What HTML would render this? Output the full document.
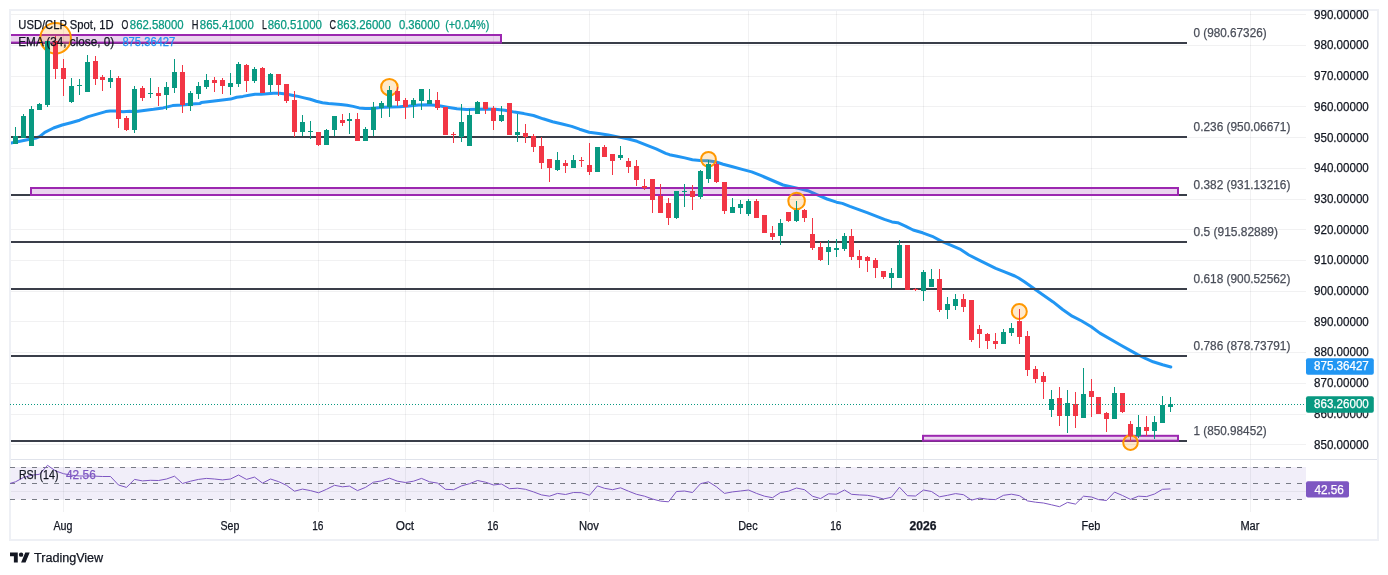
<!DOCTYPE html>
<html lang="en"><head><meta charset="utf-8"><title>USD/CLP Spot, 1D</title>
<style>html,body{margin:0;padding:0;background:#fff;overflow:hidden}svg{display:block}text{font-family:"Liberation Sans",sans-serif;font-size:12px;stroke-width:0.25px}</style></head><body>
<svg width="1388" height="575" viewBox="0 0 1388 575">
<rect width="1388" height="575" fill="#fff"/>
<defs><clipPath id="pane"><rect x="11" y="11" width="1295" height="448"/></clipPath></defs>
<rect x="11" y="467" width="1295" height="32.6" fill="#f1eef9"/>
<path d="M11 14.5H1306M11 45.5H1306M11 76.5H1306M11 106.5H1306M11 137.5H1306M11 168.5H1306M11 199.5H1306M11 229.5H1306M11 260.5H1306M11 291.5H1306M11 321.5H1306M11 352.5H1306M11 383.5H1306M11 414.5H1306M11 444.5H1306M11 491.5H1306M63.5 10V512M230.5 10V512M318.5 10V512M405.5 10V512M493.5 10V512M589.5 10V512M748.5 10V512M836.5 10V512M923.5 10V512M1091.5 10V512M1250.5 10V512" stroke="#2a2e39" stroke-opacity="0.065" stroke-width="1" fill="none"/>
<path d="M11 459.5H1377" stroke="#e0e3eb" stroke-width="1" fill="none"/>
<rect x="10" y="10" width="1368" height="530" fill="none" stroke="#eef0f5" stroke-width="2"/>
<path d="M8.0 143.7 L10.0 143.3 L18.7 141.5 L27.4 139.8 L36.1 138.0 L39.6 136.7 L44.8 132.4 L53.5 128.0 L62.2 125.0 L70.9 122.7 L79.6 120.2 L88.3 116.6 L97.0 114.1 L105.7 111.6 L110.0 111.0 L116.1 111.1 L123.0 111.7 L130.0 111.3 L134.4 111.7 L143.9 110.4 L153.5 109.3 L163.1 107.9 L172.6 105.6 L182.2 105.0 L191.7 104.1 L200.0 103.4 L201.3 102.6 L212.2 101.3 L224.5 99.7 L230.6 99.1 L236.7 97.3 L242.9 96.4 L249.0 95.2 L255.1 94.2 L261.2 94.2 L267.4 93.7 L273.5 93.2 L279.6 93.2 L285.7 93.9 L291.9 95.2 L298.0 96.4 L304.1 97.9 L310.2 99.3 L316.3 101.3 L322.5 102.8 L328.6 103.5 L334.7 104.0 L340.8 104.6 L347.0 105.2 L353.1 106.4 L359.2 107.9 L365.3 108.6 L370.0 108.6 L376.0 107.9 L383.7 107.3 L391.3 107.0 L399.6 106.7 L409.1 106.0 L418.7 105.0 L428.3 104.8 L437.8 105.6 L447.4 107.3 L457.0 108.8 L466.5 109.4 L476.1 109.2 L485.7 109.0 L495.2 109.2 L504.8 110.2 L514.4 112.1 L523.9 113.6 L533.5 115.5 L543.1 118.8 L552.6 121.7 L562.2 124.0 L571.7 126.4 L579.6 129.2 L589.1 132.3 L598.7 133.6 L608.3 134.9 L617.8 136.9 L627.4 138.8 L637.0 141.3 L646.5 145.1 L656.1 148.9 L665.7 153.3 L669.5 154.7 L677.1 156.2 L684.8 157.9 L692.4 159.8 L700.1 160.4 L707.7 160.8 L715.4 161.7 L723.1 164.2 L732.6 166.7 L742.2 169.4 L751.7 171.9 L761.3 175.7 L783.0 185.0 L798.3 188.4 L807.8 190.7 L817.4 194.9 L827.0 199.0 L836.5 202.2 L842.3 203.4 L849.9 206.4 L859.5 209.9 L867.1 212.7 L874.8 215.6 L884.4 219.4 L892.0 221.9 L897.7 222.7 L905.4 226.1 L913.1 230.0 L922.6 232.8 L932.2 236.3 L941.7 241.4 L951.3 245.3 L959.9 249.1 L968.9 255.0 L976.5 258.8 L986.1 263.6 L995.7 268.4 L1005.2 272.2 L1014.8 276.0 L1018.6 278.0 L1024.4 281.8 L1033.9 288.5 L1043.5 295.2 L1053.1 301.9 L1062.6 309.5 L1072.2 316.2 L1081.7 321.0 L1091.3 326.7 L1099.9 333.1 L1120.5 345.0 L1130.1 350.4 L1137.7 354.6 L1145.4 358.4 L1153.1 361.8 L1162.6 364.7 L1170.8 367.0" stroke="#2196f3" stroke-width="3" fill="none" stroke-linejoin="round" stroke-linecap="round" clip-path="url(#pane)"/>
<path d="M11 43H1187" stroke="#3a3e49" stroke-width="2"/>
<text x="1193.6" y="37.0" fill="#4a4e59" stroke="#4a4e59" text-anchor="start" textLength="73.0" lengthAdjust="spacingAndGlyphs">0 (980.67326)</text>
<path d="M11 137H1187" stroke="#3a3e49" stroke-width="2"/>
<text x="1193.6" y="131.0" fill="#4a4e59" stroke="#4a4e59" text-anchor="start" textLength="96.8" lengthAdjust="spacingAndGlyphs">0.236 (950.06671)</text>
<path d="M11 195H1187" stroke="#3a3e49" stroke-width="2"/>
<text x="1193.6" y="189.0" fill="#4a4e59" stroke="#4a4e59" text-anchor="start" textLength="96.8" lengthAdjust="spacingAndGlyphs">0.382 (931.13216)</text>
<path d="M11 242H1187" stroke="#3a3e49" stroke-width="2"/>
<text x="1193.6" y="236.0" fill="#4a4e59" stroke="#4a4e59" text-anchor="start" textLength="84.4" lengthAdjust="spacingAndGlyphs">0.5 (915.82889)</text>
<path d="M11 289H1187" stroke="#3a3e49" stroke-width="2"/>
<text x="1193.6" y="283.0" fill="#4a4e59" stroke="#4a4e59" text-anchor="start" textLength="96.8" lengthAdjust="spacingAndGlyphs">0.618 (900.52562)</text>
<path d="M11 356H1187" stroke="#3a3e49" stroke-width="2"/>
<text x="1193.6" y="350.0" fill="#4a4e59" stroke="#4a4e59" text-anchor="start" textLength="96.8" lengthAdjust="spacingAndGlyphs">0.786 (878.73791)</text>
<path d="M11 441H1187" stroke="#3a3e49" stroke-width="2"/>
<text x="1193.6" y="435.0" fill="#4a4e59" stroke="#4a4e59" text-anchor="start" textLength="73.0" lengthAdjust="spacingAndGlyphs">1 (850.98452)</text>
<g clip-path="url(#pane)">
<rect x="0" y="35.0" width="501" height="7.600000000000001" fill="#9c27b0" fill-opacity="0.2" stroke="#9c27b0" stroke-width="2"/>
<rect x="31" y="188" width="1147" height="7" fill="#9c27b0" fill-opacity="0.2" stroke="#9c27b0" stroke-width="2"/>
<rect x="923" y="435.8" width="255" height="4.899999999999977" fill="#9c27b0" fill-opacity="0.2" stroke="#9c27b0" stroke-width="2"/>
<circle cx="55.6" cy="38.2" r="15.3" fill="#ff9800" fill-opacity="0.2" stroke="#ff9800" stroke-width="2"/>
<circle cx="389.4" cy="87.2" r="8.3" fill="#ff9800" fill-opacity="0.2" stroke="#ff9800" stroke-width="2"/>
<circle cx="708.5" cy="159.3" r="7.4" fill="#ff9800" fill-opacity="0.2" stroke="#ff9800" stroke-width="2"/>
<circle cx="796.6" cy="201.0" r="8.3" fill="#ff9800" fill-opacity="0.2" stroke="#ff9800" stroke-width="2"/>
<circle cx="1019.3" cy="311.5" r="7.5" fill="#ff9800" fill-opacity="0.2" stroke="#ff9800" stroke-width="2"/>
<circle cx="1130.5" cy="442.6" r="7.3" fill="#ff9800" fill-opacity="0.2" stroke="#ff9800" stroke-width="2"/>
</g>
<path d="M15 127h1V144h-1zM23 114h1V138h-1zM31 106h1V146h-1zM39 103h1V110h-1zM47 41h1V107h-1zM71 78h1V103h-1zM79 79h1V95h-1zM87 55h1V92h-1zM110 70h1V88h-1zM134 86h1V133h-1zM150 78h1V98h-1zM166 82h1V110h-1zM174 59h1V93h-1zM190 91h1V111h-1zM198 82h1V99h-1zM206 74h1V89h-1zM230 73h1V95h-1zM238 62h1V87h-1zM254 67h1V83h-1zM270 73h1V92h-1zM302 115h1V136h-1zM310 121h1V139h-1zM326 129h1V145h-1zM334 116h1V136h-1zM349 113h1V134h-1zM365 127h1V141h-1zM373 102h1V136h-1zM381 101h1V118h-1zM389 86h1V117h-1zM413 98h1V118h-1zM421 89h1V110h-1zM429 89h1V104h-1zM461 104h1V142h-1zM469 109h1V146h-1zM477 101h1V114h-1zM501 106h1V122h-1zM517 114h1V142h-1zM557 152h1V171h-1zM573 155h1V168h-1zM597 147h1V172h-1zM620 146h1V160h-1zM676 191h1V219h-1zM684 184h1V207h-1zM700 170h1V199h-1zM708 160h1V183h-1zM732 198h1V213h-1zM740 200h1V214h-1zM748 199h1V216h-1zM780 219h1V245h-1zM796 201h1V222h-1zM828 240h1V265h-1zM836 239h1V257h-1zM844 233h1V251h-1zM891 268h1V288h-1zM899 240h1V278h-1zM923 270h1V301h-1zM931 269h1V287h-1zM947 297h1V319h-1zM955 294h1V310h-1zM1003 329h1V344h-1zM1011 323h1V336h-1zM1051 390h1V417h-1zM1067 390h1V433h-1zM1083 368h1V418h-1zM1114 387h1V419h-1zM1138 415h1V438h-1zM1154 416h1V439h-1zM1162 396h1V423h-1zM1170 397h1V412h-1zM13 136h5V144h-5zM21 116h5V138h-5zM29 109h5V146h-5zM37 104h5V110h-5zM45 41h5V105h-5zM69 86h5V102h-5zM77 85h5V86h-5zM85 62h5V92h-5zM108 78h5V82h-5zM132 89h5V130h-5zM148 93h5V94h-5zM164 87h5V95h-5zM172 72h5V88h-5zM188 93h5V106h-5zM196 86h5V94h-5zM204 80h5V87h-5zM228 83h5V87h-5zM236 64h5V84h-5zM252 69h5V81h-5zM268 74h5V85h-5zM300 122h5V132h-5zM308 131h5V132h-5zM324 130h5V145h-5zM332 116h5V130h-5zM347 119h5V121h-5zM363 129h5V141h-5zM371 107h5V130h-5zM379 103h5V108h-5zM387 90h5V107h-5zM411 100h5V105h-5zM419 89h5V101h-5zM427 100h5V104h-5zM459 122h5V137h-5zM467 115h5V146h-5zM475 102h5V114h-5zM499 115h5V121h-5zM515 132h5V135h-5zM555 160h5V170h-5zM571 160h5V168h-5zM595 147h5V172h-5zM618 155h5V158h-5zM674 191h5V218h-5zM682 191h5V192h-5zM698 171h5V197h-5zM706 164h5V179h-5zM730 207h5V213h-5zM738 204h5V208h-5zM746 201h5V214h-5zM778 223h5V236h-5zM794 210h5V221h-5zM826 247h5V252h-5zM834 248h5V250h-5zM842 236h5V249h-5zM889 273h5V278h-5zM897 245h5V278h-5zM921 272h5V291h-5zM929 279h5V287h-5zM945 304h5V310h-5zM953 299h5V306h-5zM1001 332h5V344h-5zM1009 328h5V333h-5zM1049 399h5V410h-5zM1065 403h5V416h-5zM1081 394h5V418h-5zM1112 393h5V419h-5zM1136 427h5V436h-5zM1152 422h5V431h-5zM1160 405h5V423h-5zM1168 404h5V407h-5z" fill="#089981"/>
<path d="M55 36h1V79h-1zM63 59h1V96h-1zM95 56h1V85h-1zM102 75h1V91h-1zM118 76h1V128h-1zM126 116h1V131h-1zM142 86h1V101h-1zM158 87h1V106h-1zM182 65h1V113h-1zM214 77h1V92h-1zM222 78h1V94h-1zM246 64h1V92h-1zM262 67h1V93h-1zM278 74h1V96h-1zM286 84h1V103h-1zM294 91h1V137h-1zM318 132h1V146h-1zM342 114h1V126h-1zM357 113h1V141h-1zM397 87h1V106h-1zM405 98h1V119h-1zM437 92h1V110h-1zM445 107h1V135h-1zM453 132h1V143h-1zM485 102h1V114h-1zM493 106h1V130h-1zM509 103h1V135h-1zM525 124h1V143h-1zM533 134h1V152h-1zM541 137h1V169h-1zM549 159h1V182h-1zM565 160h1V173h-1zM581 157h1V167h-1zM589 143h1V175h-1zM604 145h1V157h-1zM612 154h1V175h-1zM628 158h1V173h-1zM636 160h1V186h-1zM644 179h1V190h-1zM652 179h1V213h-1zM660 184h1V213h-1zM668 198h1V225h-1zM692 185h1V210h-1zM716 162h1V183h-1zM724 182h1V214h-1zM756 199h1V218h-1zM764 215h1V233h-1zM772 226h1V240h-1zM788 212h1V222h-1zM804 209h1V222h-1zM812 218h1V250h-1zM820 242h1V261h-1zM851 229h1V260h-1zM859 250h1V268h-1zM867 256h1V272h-1zM875 258h1V278h-1zM883 271h1V279h-1zM907 245h1V290h-1zM915 288h1V291h-1zM939 269h1V312h-1zM963 294h1V312h-1zM971 300h1V342h-1zM979 325h1V348h-1zM987 333h1V349h-1zM995 333h1V349h-1zM1019 309h1V344h-1zM1027 331h1V376h-1zM1035 366h1V383h-1zM1043 372h1V399h-1zM1059 387h1V426h-1zM1075 392h1V428h-1zM1091 379h1V417h-1zM1098 397h1V414h-1zM1106 412h1V432h-1zM1122 393h1V413h-1zM1130 421h1V441h-1zM1146 416h1V436h-1zM53 41h5V69h-5zM61 68h5V79h-5zM93 61h5V79h-5zM100 77h5V80h-5zM116 78h5V119h-5zM124 118h5V130h-5zM140 88h5V98h-5zM156 93h5V96h-5zM180 72h5V105h-5zM212 80h5V83h-5zM220 80h5V86h-5zM244 65h5V81h-5zM260 68h5V93h-5zM276 74h5V85h-5zM284 84h5V101h-5zM292 100h5V132h-5zM316 132h5V145h-5zM340 120h5V123h-5zM355 119h5V141h-5zM395 91h5V101h-5zM403 100h5V107h-5zM435 100h5V108h-5zM443 107h5V135h-5zM451 134h5V135h-5zM483 102h5V109h-5zM491 108h5V121h-5zM507 103h5V135h-5zM523 133h5V137h-5zM531 136h5V147h-5zM539 146h5V163h-5zM547 159h5V168h-5zM563 163h5V166h-5zM579 160h5V161h-5zM587 165h5V172h-5zM602 147h5V157h-5zM610 154h5V161h-5zM626 161h5V167h-5zM634 166h5V180h-5zM642 186h5V188h-5zM650 179h5V200h-5zM658 196h5V213h-5zM666 203h5V218h-5zM690 191h5V197h-5zM714 164h5V182h-5zM722 182h5V211h-5zM754 201h5V218h-5zM762 215h5V233h-5zM770 233h5V237h-5zM786 212h5V221h-5zM802 210h5V218h-5zM810 234h5V248h-5zM818 247h5V260h-5zM849 236h5V257h-5zM857 256h5V260h-5zM865 257h5V261h-5zM873 260h5V268h-5zM881 271h5V277h-5zM905 245h5V290h-5zM913 289h5V290h-5zM937 279h5V310h-5zM961 299h5V307h-5zM969 300h5V340h-5zM977 329h5V334h-5zM985 334h5V341h-5zM993 341h5V344h-5zM1017 321h5V337h-5zM1025 336h5V370h-5zM1033 369h5V379h-5zM1041 376h5V382h-5zM1057 398h5V416h-5zM1073 404h5V416h-5zM1089 391h5V397h-5zM1096 397h5V414h-5zM1104 413h5V419h-5zM1120 393h5V412h-5zM1128 424h5V436h-5zM1144 427h5V431h-5z" fill="#f23645"/>
<path d="M10 404.5H1306" stroke="#089981" stroke-width="1" stroke-dasharray="1 2"/>
<path d="M10 467.5H1306" stroke="#787b86" stroke-width="1" stroke-dasharray="5 6"/>
<path d="M10 483.5H1306" stroke="#787b86" stroke-width="1" stroke-dasharray="5 6"/>
<path d="M10 499.5H1306" stroke="#787b86" stroke-width="1" stroke-dasharray="5 6"/>
<clipPath id="rp"><rect x="10" y="460" width="1296" height="52"/></clipPath><path d="M7.5 484.2 L15.5 481.8 L23.5 477.5 L31.5 475.2 L39.5 474.3 L47.5 465.3 L55.5 470.9 L63.5 473.7 L71.5 475.2 L79.5 476.0 L87.5 476.0 L95.5 476.2 L102.5 476.5 L110.5 476.5 L118.5 485.0 L126.5 487.4 L134.5 479.4 L142.5 480.9 L150.5 480.3 L158.5 480.5 L166.5 479.0 L174.5 476.2 L182.5 483.5 L190.5 481.2 L198.5 479.4 L206.5 478.4 L214.5 479.0 L222.5 479.9 L230.5 479.0 L238.5 475.0 L246.5 479.4 L254.5 477.1 L262.5 483.1 L270.5 479.0 L278.5 481.6 L286.5 485.3 L294.5 491.2 L302.5 489.1 L310.5 490.6 L318.5 492.8 L326.5 489.3 L334.5 485.3 L342.5 486.8 L349.5 486.1 L357.5 490.6 L365.5 487.4 L373.5 482.2 L381.5 480.9 L389.5 478.2 L397.5 481.2 L405.5 482.5 L413.5 481.2 L421.5 478.4 L429.5 481.8 L437.5 483.1 L445.5 489.3 L453.5 489.7 L461.5 485.9 L469.5 483.7 L477.5 480.5 L485.5 482.2 L493.5 485.0 L501.5 484.0 L509.5 488.7 L517.5 488.2 L525.5 489.3 L533.5 491.9 L541.5 494.9 L549.5 496.2 L557.5 493.4 L565.5 494.5 L573.5 492.5 L581.5 492.7 L589.5 495.3 L597.5 485.9 L604.5 488.3 L612.5 489.7 L620.5 487.8 L628.5 491.2 L636.5 494.3 L644.5 496.2 L652.5 499.0 L660.5 501.1 L668.5 501.8 L676.5 491.5 L684.5 491.0 L692.5 492.5 L700.5 483.7 L708.5 481.8 L716.5 486.8 L724.5 493.4 L732.5 491.9 L740.5 491.0 L748.5 490.0 L756.5 493.4 L764.5 496.2 L772.5 497.7 L780.5 492.5 L788.5 491.2 L796.5 488.0 L804.5 489.7 L812.5 496.2 L820.5 498.6 L828.5 493.8 L836.5 494.2 L844.5 490.0 L851.5 494.3 L859.5 494.9 L867.5 495.3 L875.5 496.8 L883.5 499.0 L891.5 497.2 L899.5 487.2 L907.5 495.7 L915.5 496.0 L923.5 490.0 L931.5 491.5 L939.5 496.8 L947.5 495.3 L955.5 493.6 L963.5 494.7 L971.5 500.1 L979.5 498.1 L987.5 499.2 L995.5 499.6 L1003.5 495.3 L1011.5 494.2 L1019.5 495.7 L1027.5 500.9 L1035.5 502.2 L1043.5 503.0 L1051.5 504.8 L1059.5 506.7 L1067.5 502.4 L1075.5 504.1 L1083.5 496.2 L1091.5 497.0 L1098.5 499.6 L1106.5 500.5 L1114.5 492.1 L1122.5 495.5 L1130.5 499.4 L1138.5 496.2 L1146.5 496.6 L1154.5 494.0 L1162.5 489.3 L1170.5 488.9" stroke="#7e57c2" stroke-width="1" fill="none" stroke-linejoin="round" clip-path="url(#rp)"/>
<text x="1314.0" y="18.8" fill="#131722" stroke="#131722" text-anchor="start" textLength="54.8" lengthAdjust="spacingAndGlyphs">990.00000</text>
<text x="1314.0" y="49.4" fill="#131722" stroke="#131722" text-anchor="start" textLength="54.8" lengthAdjust="spacingAndGlyphs">980.00000</text>
<text x="1314.0" y="80.2" fill="#131722" stroke="#131722" text-anchor="start" textLength="54.8" lengthAdjust="spacingAndGlyphs">970.00000</text>
<text x="1314.0" y="110.8" fill="#131722" stroke="#131722" text-anchor="start" textLength="54.8" lengthAdjust="spacingAndGlyphs">960.00000</text>
<text x="1314.0" y="141.6" fill="#131722" stroke="#131722" text-anchor="start" textLength="54.8" lengthAdjust="spacingAndGlyphs">950.00000</text>
<text x="1314.0" y="172.2" fill="#131722" stroke="#131722" text-anchor="start" textLength="54.8" lengthAdjust="spacingAndGlyphs">940.00000</text>
<text x="1314.0" y="202.9" fill="#131722" stroke="#131722" text-anchor="start" textLength="54.8" lengthAdjust="spacingAndGlyphs">930.00000</text>
<text x="1314.0" y="233.7" fill="#131722" stroke="#131722" text-anchor="start" textLength="54.8" lengthAdjust="spacingAndGlyphs">920.00000</text>
<text x="1314.0" y="264.3" fill="#131722" stroke="#131722" text-anchor="start" textLength="54.8" lengthAdjust="spacingAndGlyphs">910.00000</text>
<text x="1314.0" y="295.1" fill="#131722" stroke="#131722" text-anchor="start" textLength="54.8" lengthAdjust="spacingAndGlyphs">900.00000</text>
<text x="1314.0" y="325.8" fill="#131722" stroke="#131722" text-anchor="start" textLength="54.8" lengthAdjust="spacingAndGlyphs">890.00000</text>
<text x="1314.0" y="356.4" fill="#131722" stroke="#131722" text-anchor="start" textLength="54.8" lengthAdjust="spacingAndGlyphs">880.00000</text>
<text x="1314.0" y="387.1" fill="#131722" stroke="#131722" text-anchor="start" textLength="54.8" lengthAdjust="spacingAndGlyphs">870.00000</text>
<text x="1314.0" y="417.8" fill="#131722" stroke="#131722" text-anchor="start" textLength="54.8" lengthAdjust="spacingAndGlyphs">860.00000</text>
<text x="1314.0" y="448.6" fill="#131722" stroke="#131722" text-anchor="start" textLength="54.8" lengthAdjust="spacingAndGlyphs">850.00000</text>
<rect x="1306" y="358.2" width="67.8" height="16.5" rx="2" fill="#2196f3"/>
<text x="1314.0" y="370.4" fill="#fff" stroke="#fff" text-anchor="start" textLength="54.8" lengthAdjust="spacingAndGlyphs" stroke-width="0.5">875.36427</text>
<rect x="1306" y="396.2" width="67.8" height="16.5" rx="2" fill="#089981"/>
<text x="1314.0" y="408.4" fill="#fff" stroke="#fff" text-anchor="start" textLength="54.8" lengthAdjust="spacingAndGlyphs" stroke-width="0.5">863.26000</text>
<rect x="1306" y="481.2" width="43" height="16.4" rx="2" fill="#7e57c2"/>
<text x="1314.4" y="493.7" fill="#fff" stroke="#fff" text-anchor="start" textLength="29.5" lengthAdjust="spacingAndGlyphs" stroke-width="0.5">42.56</text>
<text x="53.4" y="530.3" fill="#131722" stroke="#131722" text-anchor="start" textLength="19.0" lengthAdjust="spacingAndGlyphs">Aug</text>
<text x="220.5" y="530.3" fill="#131722" stroke="#131722" text-anchor="start" textLength="18.8" lengthAdjust="spacingAndGlyphs">Sep</text>
<text x="312.2" y="530.3" fill="#131722" stroke="#131722" text-anchor="start" textLength="11.3" lengthAdjust="spacingAndGlyphs">16</text>
<text x="395.7" y="530.3" fill="#131722" stroke="#131722" text-anchor="start" textLength="18.4" lengthAdjust="spacingAndGlyphs">Oct</text>
<text x="487.2" y="530.3" fill="#131722" stroke="#131722" text-anchor="start" textLength="11.3" lengthAdjust="spacingAndGlyphs">16</text>
<text x="578.9" y="530.3" fill="#131722" stroke="#131722" text-anchor="start" textLength="19.9" lengthAdjust="spacingAndGlyphs">Nov</text>
<text x="738.2" y="530.3" fill="#131722" stroke="#131722" text-anchor="start" textLength="19.4" lengthAdjust="spacingAndGlyphs">Dec</text>
<text x="830.2" y="530.3" fill="#131722" stroke="#131722" text-anchor="start" textLength="11.3" lengthAdjust="spacingAndGlyphs">16</text>
<text x="909.4" y="530.3" fill="#131722" stroke="#131722" text-anchor="start" textLength="27.0" lengthAdjust="spacingAndGlyphs" font-weight="bold" stroke-width="0">2026</text>
<text x="1081.5" y="530.3" fill="#131722" stroke="#131722" text-anchor="start" textLength="18.8" lengthAdjust="spacingAndGlyphs">Feb</text>
<text x="1240.4" y="530.3" fill="#131722" stroke="#131722" text-anchor="start" textLength="19.0" lengthAdjust="spacingAndGlyphs">Mar</text>
<text x="18.3" y="28.7" fill="#131722" stroke="#131722" text-anchor="start" textLength="95.2" lengthAdjust="spacingAndGlyphs">USD/CLP Spot, 1D</text>
<text x="121.6" y="28.7" fill="#131722" stroke="#131722" text-anchor="start" textLength="6.8" lengthAdjust="spacingAndGlyphs">O</text>
<text x="129.8" y="28.7" fill="#089981" stroke="#089981" text-anchor="start" textLength="53.8" lengthAdjust="spacingAndGlyphs">862.58000</text>
<text x="191.8" y="28.7" fill="#131722" stroke="#131722" text-anchor="start" textLength="6.7" lengthAdjust="spacingAndGlyphs">H</text>
<text x="199.8" y="28.7" fill="#089981" stroke="#089981" text-anchor="start" textLength="54.0" lengthAdjust="spacingAndGlyphs">865.41000</text>
<text x="261.9" y="28.7" fill="#131722" stroke="#131722" text-anchor="start" textLength="4.9" lengthAdjust="spacingAndGlyphs">L</text>
<text x="267.7" y="28.7" fill="#089981" stroke="#089981" text-anchor="start" textLength="54.2" lengthAdjust="spacingAndGlyphs">860.51000</text>
<text x="329.5" y="28.7" fill="#131722" stroke="#131722" text-anchor="start" textLength="6.5" lengthAdjust="spacingAndGlyphs">C</text>
<text x="337.0" y="28.7" fill="#089981" stroke="#089981" text-anchor="start" textLength="54.0" lengthAdjust="spacingAndGlyphs">863.26000</text>
<text x="398.9" y="28.7" fill="#089981" stroke="#089981" text-anchor="start" textLength="40.8" lengthAdjust="spacingAndGlyphs">0.36000</text>
<text x="445.2" y="28.7" fill="#089981" stroke="#089981" text-anchor="start" textLength="44.1" lengthAdjust="spacingAndGlyphs">(+0.04%)</text>
<text x="18.3" y="45.5" fill="#131722" stroke="#131722" text-anchor="start" textLength="95.8" lengthAdjust="spacingAndGlyphs">EMA (34, close, 0)</text>
<text x="122.4" y="45.5" fill="#2196f3" stroke="#2196f3" text-anchor="start" textLength="52.9" lengthAdjust="spacingAndGlyphs">875.36427</text>
<text x="18.9" y="479.2" fill="#131722" stroke="#131722" text-anchor="start" textLength="39.6" lengthAdjust="spacingAndGlyphs">RSI (14)</text>
<text x="66.0" y="479.2" fill="#7e57c2" stroke="#7e57c2" text-anchor="start" textLength="29.8" lengthAdjust="spacingAndGlyphs">42.56</text>
<g transform="translate(10,550.2) scale(0.555)" fill="#131722"><path d="M14 22H7V11H0V4h14v18zM28 22h-8l7.5-18h8L28 22z"/><circle cx="20" cy="8" r="4"/></g>
<text x="34.0" y="561.5" fill="#131722" stroke="#131722" text-anchor="start" textLength="69.2" lengthAdjust="spacingAndGlyphs" font-size="13">TradingView</text>
</svg></body></html>
